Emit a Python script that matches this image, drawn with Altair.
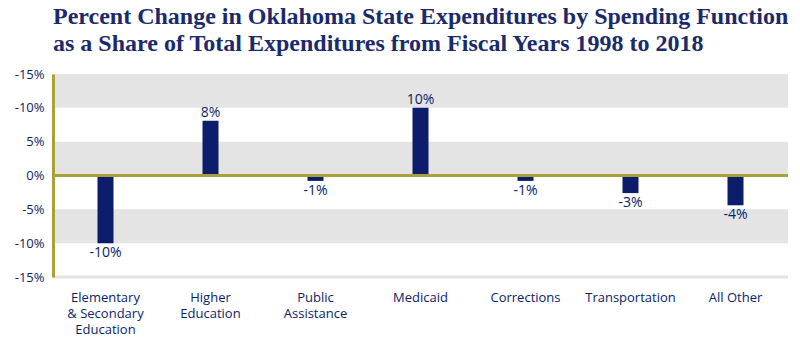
import altair as alt
import pandas as pd

categories = ["Elementary|& Secondary|Education", "Higher|Education", "Public|Assistance",
              "Medicaid", "Corrections", "Transportation", "All Other"]
values = [-10.0, 8.1, -0.8, 10.0, -0.8, -2.6, -4.4]
value_labels = ["-10%", "8%", "-1%", "10%", "-1%", "-3%", "-4%"]
y_ticks = [15, 10, 5, 0, -5, -10, -15]
y_tick_labels = ["-15%", "-10%", "5%", "0%", "-5%", "-10%", "-15%"]
band_lo = [10, 0, -10]
band_hi = [15, 5, -5]

NAVY = "#0b1d6b"
OLIVE = "#a9a03a"
GRAY = "#e4e4e4"
W, H = 735, 203

df = pd.DataFrame({"cat": categories, "value": values, "label": value_labels})
bands = pd.DataFrame({"lo": band_lo, "hi": band_hi})

label_map = "{" + ",".join(f"'{v}':'{t}'" for v, t in zip(y_ticks, y_tick_labels)) + "}"

yscale = alt.Scale(domain=[-15, 15], nice=False)
yaxis = alt.Axis(values=y_ticks, labelExpr=f"{label_map}[datum.value]",
                 grid=False, ticks=False, domain=True, domainColor=OLIVE,
                 domainWidth=3, labelPadding=9, labelFont="Open Sans",
                 labelFontSize=13, labelColor=NAVY, labelOverlap=False,
                 zindex=1, title=None)
xaxis = alt.Axis(labelExpr="split(datum.label, '|')", labelAngle=0,
                 domain=False, ticks=False, labelPadding=14,
                 labelBaseline="top", labelLineHeight=16,
                 labelFont="Open Sans", labelFontSize=13, labelColor=NAVY,
                 labelLimit=200, labelOverlap=False, title=None)


def Y(field):
    return alt.Y(field, scale=yscale, axis=yaxis)


def X():
    return alt.X("cat:N", sort=categories, axis=xaxis)


band_layer = alt.Chart(bands).mark_rect(color=GRAY).encode(
    y=Y("lo:Q"), y2="hi:Q", x=alt.value(0), x2=alt.value(W),
)

bottom_rule = alt.Chart(pd.DataFrame({"v": [-15]})).mark_rule(color=GRAY, strokeWidth=3).encode(
    y=Y("v:Q"), x=alt.value(0), x2=alt.value(W),
)

bars = alt.Chart(df).mark_bar(color=NAVY, size=16).encode(x=X(), y=Y("value:Q"))

zero = alt.Chart(pd.DataFrame({"v": [0]})).mark_rule(color=OLIVE, strokeWidth=3).encode(
    y=Y("v:Q"), x=alt.value(0), x2=alt.value(W),
)

pos_text = alt.Chart(df).transform_filter("datum.value >= 0").mark_text(
    baseline="bottom", dy=-1, font="Open Sans", fontSize=14, color=NAVY
).encode(x=X(), y=Y("value:Q"), text="label:N")

neg_text = alt.Chart(df).transform_filter("datum.value < 0").mark_text(
    baseline="top", dy=3, font="Open Sans", fontSize=14, color=NAVY
).encode(x=X(), y=Y("value:Q"), text="label:N")

chart = alt.layer(band_layer, bottom_rule, bars, zero, pos_text, neg_text).properties(
    width=W, height=H,
    autosize=alt.AutoSizeParams(type="none"),
    padding={"left": 53, "top": 74, "right": 12, "bottom": 77},
    title=alt.TitleParams(
        text=["Percent Change in Oklahoma State Expenditures by Spending Function",
              "as a Share of Total Expenditures from Fiscal Years 1998 to 2018"],
        anchor="start", frame="group", font="Liberation Serif", fontSize=24,
        fontWeight="bold", color="#1b2a6b", lineHeight=27, offset=12,
    ),
).configure_view(stroke=None).configure_scale(
    bandPaddingInner=0, bandPaddingOuter=0
).configure_axis(labelOverlap=False)

chart.save("out.html", embed_options={"renderer": "svg", "actions": False})
